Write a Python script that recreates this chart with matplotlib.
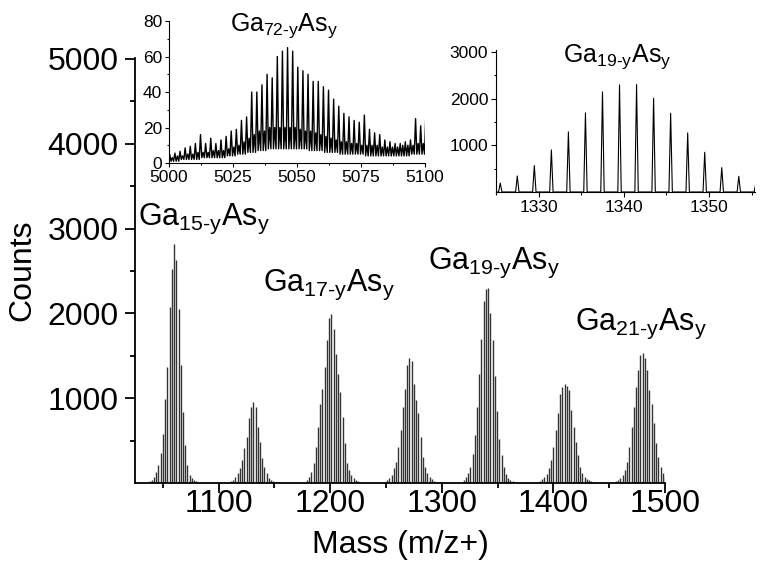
import numpy as np
import matplotlib
matplotlib.use("Agg")
import matplotlib.pyplot as plt
from matplotlib.ticker import MultipleLocator, FixedLocator

plt.rcParams['font.family'] = ['Liberation Sans', 'DejaVu Sans']
plt.rcParams['mathtext.fontset'] = 'custom'
plt.rcParams['mathtext.rm'] = 'Liberation Sans'
plt.rcParams['mathtext.default'] = 'regular'

# main spectrum: first mass of each cluster, counts of the lines 2 u apart
cluster_start = [1036, 1109, 1177, 1249, 1319.5, 1388, 1456]
ga15 = [10, 20, 40, 75, 133, 212, 349, 576, 996, 1369, 2075, 2526, 2820, 2632,
        2047, 1388, 839, 447, 212, 94, 55, 35, 20, 10]
ga16 = [10, 20, 35, 67, 114, 173, 271, 408, 545, 761, 898, 957, 897, 663, 486,
        290, 192, 114, 55, 35, 24, 12]
ga17 = [15, 35, 67, 133, 231, 427, 663, 937, 1114, 1369, 1682, 1949, 1996, 1820,
        1525, 1290, 1075, 780, 467, 231, 150, 94, 55, 35, 24, 12]
ga18 = [15, 35, 55, 94, 173, 251, 427, 624, 898, 1114, 1390, 1478, 1440, 1173,
        976, 820, 545, 310, 192, 114, 75, 43, 27, 15]
ga19 = [40, 70, 120, 190, 343, 564, 900, 1286, 1693, 2143, 2293, 2300, 2007,
        1686, 1264, 850, 521, 336, 190, 110, 60, 35, 20]
ga20 = [20, 43, 70, 110, 173, 271, 427, 624, 820, 1055, 1133, 1173, 1141, 1094,
        859, 663, 486, 329, 192, 114, 75, 43, 35, 24, 15]
ga21 = [20, 35, 55, 94, 153, 251, 427, 663, 898, 1133, 1329, 1506, 1533, 1478,
        1329, 1094, 937, 702, 467, 310, 192, 114, 75, 55, 35, 20]
clusters = [ga15, ga16, ga17, ga18, ga19, ga20, ga21]

labels = [r'$Ga_{15\text{-}y}As_y$', r'$Ga_{17\text{-}y}As_y$',
          r'$Ga_{19\text{-}y}As_y$', r'$Ga_{21\text{-}y}As_y$']
label_x = [1027.5, 1139.5, 1287.5, 1419.5]
label_y = [3040, 2270, 2530, 1800]

# Ga72 inset: main peak, valley and in-between line per isotope step
ga72_first = 5000.3
ga72_peak = [4.7, 5.6, 6.6, 8.5, 9.4, 11, 16, 11, 14, 11, 13, 15, 18, 19, 24, 26,
             40, 40, 44, 50, 48, 60, 63, 65, 63, 54, 52, 50, 46, 46, 43, 41, 36,
             32, 28, 26, 24, 23, 27, 19, 17, 16, 13, 12, 11, 11, 12, 13, 25, 21, 27]
ga72_sub = [3, 4, 4, 5, 5, 6, 6, 6, 7, 7, 7, 8, 9, 10, 12, 14, 16, 18, 18, 20, 20,
            20, 20, 20, 20, 19, 18, 18, 17, 16, 15, 14, 13, 12, 12, 11, 11, 10, 10,
            10, 10, 9, 9, 9, 9, 10, 10, 10, 11, 11, 12]
ga72_low = [1, 1, 2, 2, 2, 2, 3, 3, 3, 3, 3, 4, 4, 5, 5, 6, 6, 7, 7, 8, 8, 8, 8, 8,
            8, 8, 8, 7, 7, 7, 6, 6, 6, 5, 5, 5, 5, 5, 4, 4, 4, 4, 4, 4, 4, 4, 4, 5,
            5, 5, 5]

fig = plt.figure(figsize=(7.62, 5.69), dpi=100)

# ---- main panel
ax = fig.add_axes([0.1772, 0.1511, 0.6955, 0.7469])
for start, h in zip(cluster_start, clusters):
    m = start + 2 * np.arange(len(h))
    ax.vlines(m, 0, h, color='#333333', lw=1.0)
ax.set_xlim(1025, 1500)
ax.set_ylim(0, 5010)
ax.spines['top'].set_visible(False)
ax.spines['right'].set_visible(False)
for s in ['left', 'bottom']:
    ax.spines[s].set_linewidth(1.3)
ax.set_xticks([1100, 1200, 1300, 1400, 1500])
ax.xaxis.set_minor_locator(MultipleLocator(50))
ax.set_yticks([1000, 2000, 3000, 4000, 5000])
ax.yaxis.set_minor_locator(FixedLocator([500, 1500, 2500, 3500, 4500]))
ax.tick_params(which='major', length=7, width=1.3, labelsize=23)
ax.tick_params(which='minor', length=3.5, width=1.3)
ax.tick_params(axis='x', pad=-3)
ax.tick_params(axis='y', pad=5)
ax.set_xlabel('Mass (m/z+)', fontsize=23)
ax.set_ylabel('Counts', fontsize=23)
ax.xaxis.set_label_coords(0.5, -0.11)
ax.yaxis.set_label_coords(-0.185, 0.5)
for t, x, y in zip(labels, label_x, label_y):
    ax.text(x, y, t, fontsize=22, ha='left', va='baseline')

# ---- Ga72 inset
ax1 = fig.add_axes([0.2218, 0.7135, 0.3360, 0.2496])
ax1.patch.set_alpha(0)
xs, ys = [], []
for k in range(len(ga72_peak)):
    p = ga72_first + 2 * k
    xs += [p, p + 0.5, p + 1.0, p + 1.5]
    ys += [ga72_peak[k], ga72_low[k], ga72_sub[k], ga72_low[k]]
ax1.plot(xs, ys, color='black', lw=1.0)
ax1.set_xlim(5000, 5100)
ax1.set_ylim(0, 80)
ax1.set_xticks([5000, 5025, 5050, 5075, 5100])
ax1.xaxis.set_minor_locator(MultipleLocator(12.5))
ax1.set_yticks([0, 20, 40, 60, 80])
ax1.yaxis.set_minor_locator(MultipleLocator(10))
ax1.spines['top'].set_visible(False)
ax1.spines['right'].set_visible(False)
ax1.tick_params(which='major', length=3, width=0.8, labelsize=12.5, pad=2)
ax1.tick_params(which='minor', length=1.5, width=0.8)
ax1.text(5023.8, 74.3, r'$Ga_{72\text{-}y}As_y$', fontsize=18, ha='left', va='baseline')

# ---- Ga19 zoom inset
ax2 = fig.add_axes([0.6509, 0.6626, 0.3399, 0.2496])
ax2.patch.set_alpha(0)
m19 = cluster_start[4] + 2 * np.arange(len(ga19))
tx, ty = [], []
for c, h in zip(m19, ga19):
    tx += [c - 0.2, c, c + 0.2]
    ty += [0, h, 0]
ax2.plot(tx, ty, color='black', lw=0.8)
ax2.set_xlim(1325, 1355.4)
ax2.set_ylim(0, 3040)
ax2.set_xticks([1330, 1340, 1350])
ax2.xaxis.set_minor_locator(MultipleLocator(5))
ax2.set_yticks([1000, 2000, 3000])
ax2.yaxis.set_minor_locator(FixedLocator([500, 1500, 2500]))
ax2.spines['top'].set_visible(False)
ax2.spines['right'].set_visible(False)
ax2.tick_params(which='major', length=3.5, width=0.8, labelsize=12.5, pad=2)
ax2.tick_params(which='minor', length=1.8, width=0.8)
ax2.text(1332.9, 2790, r'$Ga_{19\text{-}y}As_y$', fontsize=18, ha='left', va='baseline')

fig.savefig('out.png', dpi=100)
